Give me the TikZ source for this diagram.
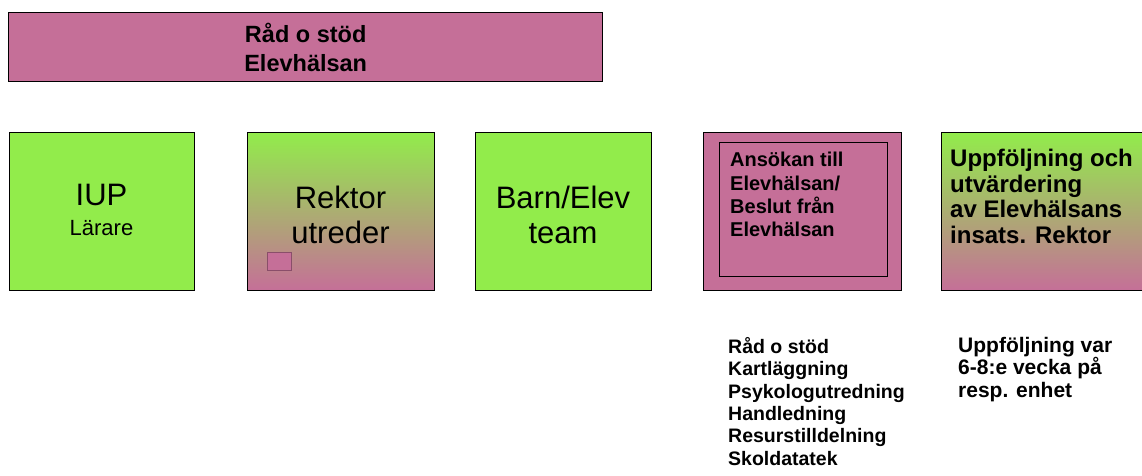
\documentclass[tikz,border=0pt]{standalone}
\usepackage{fontspec}
\setmainfont{Liberation Sans}
\definecolor{pinkc}{HTML}{C56F98}
\definecolor{greenc}{HTML}{92EC4B}
\tikzset{
  box/.style={draw=black,line width=1.4pt,anchor=north west,inner sep=0pt,align=center},
  pinkbox/.style={box,fill=pinkc},
  greenbox/.style={box,fill=greenc},
  gradbox/.style={box,top color=greenc,bottom color=pinkc,middle color=greenc!50!pinkc},
  bigtxt/.style={inner sep=0pt,align=center,font=\fontsize{31}{35}\selectfont},
  nwtxt/.style={anchor=north west,inner sep=0pt,align=left}
}
\begin{document}
\begin{tikzpicture}[x=1pt,y=-1pt]
\useasboundingbox (0,0) rectangle (1142,475);
\clip (0,0) rectangle (1142,475);
% top box
\node[pinkbox,minimum width=594pt,minimum height=69pt,font=\bfseries\fontsize{23.5}{29}\selectfont] (top) at (8,12) {Råd o stöd\\Elevhälsan};
% row of boxes
\node[greenbox,minimum width=185pt,minimum height=158pt] (iup) at (9,132) {};
\node[inner sep=0pt,align=center,font=\fontsize{31}{30}\selectfont] (iuptxt) at (101.5,210)
  {IUP\\{\fontsize{22}{30}\selectfont Lärare}};
\node[gradbox,minimum width=187pt,minimum height=158pt] (rektor) at (247,132) {};
\node[bigtxt] (rektortxt) at (340.5,214.5) {Rektor\\utreder};
\node[draw=pinkc!70!black,line width=0.5pt,fill=pinkc,minimum width=24pt,minimum height=18pt,inner sep=0pt,anchor=north west] (sq) at (267,252) {};
\node[greenbox,minimum width=176pt,minimum height=158pt] (barn) at (475,132) {};
\node[bigtxt] (barntxt) at (563,214.5) {Barn/Elev\\team};
\node[pinkbox,minimum width=198pt,minimum height=158pt] (ans) at (703,132) {};
\node[draw=black,line width=1.2pt,minimum width=168pt,minimum height=134pt,anchor=north west,inner sep=0pt] (inner) at (719,142) {};
\node[nwtxt,font=\bfseries\fontsize{20}{23.3}\selectfont] (anstxt) at (730,152)
  {Ansökan till\\Elevhälsan/\\Beslut från\\Elevhälsan};
\node[gradbox,minimum width=220pt,minimum height=158pt] (uppf) at (941,132) {};
\node[nwtxt,font=\bfseries\fontsize{24}{25.5}\selectfont] (upptxt) at (950,149)
  {Uppföljning och\\utvärdering\\av Elevhälsans\\insats. Rektor};
% lists below
\node[nwtxt,font=\bfseries\fontsize{19.5}{22.4}\selectfont] (list1) at (728,337)
  {Råd o stöd\\Kartläggning\\Psykologutredning\\Handledning\\Resurstilldelning\\Skoldatatek};
\node[nwtxt,font=\bfseries\fontsize{21}{22.4}\selectfont] (list2) at (958,337)
  {Uppföljning var\\6-8:e vecka på\\resp. enhet};
\end{tikzpicture}
\end{document}
